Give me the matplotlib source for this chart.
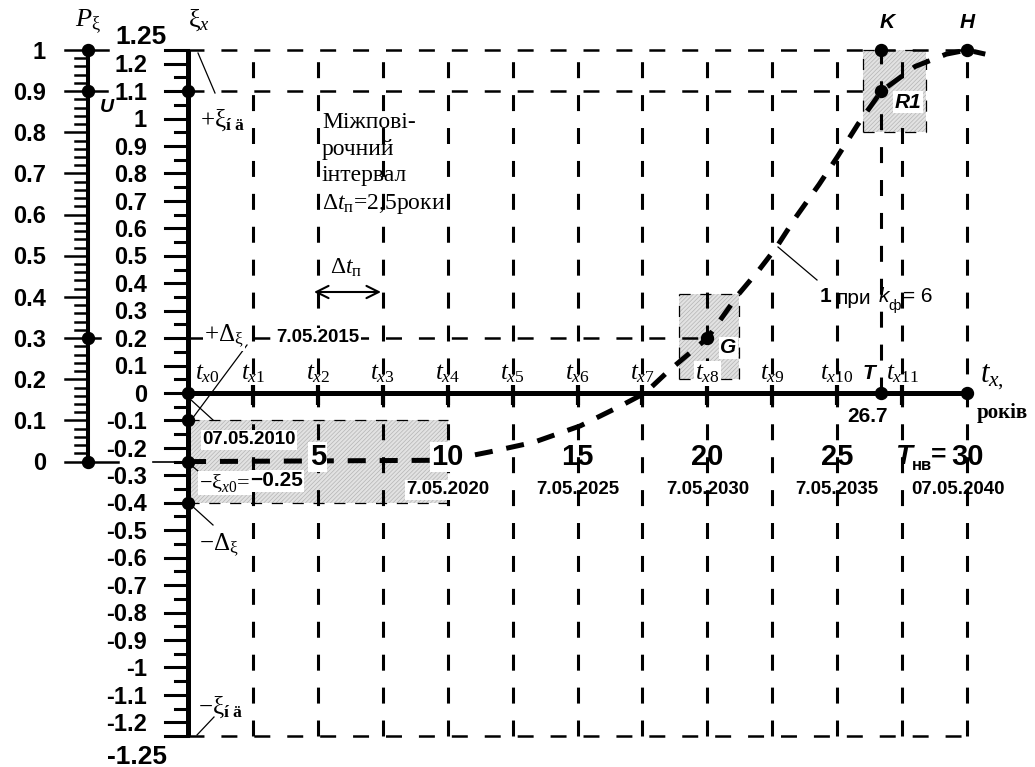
import numpy as np
import matplotlib.pyplot as plt
from matplotlib.patches import Rectangle

plt.rcParams['lines.scale_dashes'] = False
plt.rcParams['mathtext.fontset'] = 'custom'
plt.rcParams['mathtext.rm'] = 'Liberation Serif'
plt.rcParams['mathtext.it'] = 'Liberation Serif:italic'
plt.rcParams['mathtext.bf'] = 'Liberation Serif:bold'
plt.rcParams['hatch.linewidth'] = 0.5

SANS = 'Liberation Sans'
SERIF = 'Liberation Serif'

# вузли повірок, роки
t_nodes = [0, 2.5, 5, 7.5, 10, 12.5, 15, 17.5, 20, 22.5, 25, 27.5, 30]
year_ticks = [5, 10, 15, 20, 25, 30]
year_labels = ['5', '10', '15', '20', '25', '30']
date_t = [0, 5, 10, 15, 20, 25, 30]
date_labels = ['07.05.2010', '7.05.2015', '7.05.2020', '7.05.2025',
               '7.05.2030', '7.05.2035', '07.05.2040']

# крива дрейфу 1 при k_ф = 6
curve_t = [0, 10, 11.6, 13.3, 15.1, 16.6, 17.6, 18.5, 20, 21.2, 22.0,
           22.65, 23.4, 24.3, 25.0, 25.8, 26.7, 28.0, 29.2, 30.0, 30.7]
curve_xi = [-0.25, -0.245, -0.215, -0.18, -0.12, -0.05, 0.0, 0.08, 0.2,
            0.36, 0.45, 0.53, 0.64, 0.76, 0.86, 0.98, 1.1, 1.19, 1.235,
            1.25, 1.235]

# характерні точки
pt_names = ['K', 'H', 'R1', 'G', 'T']
pt_t = [26.7, 30.0, 26.7, 20.0, 26.7]
pt_xi = [1.25, 1.25, 1.1, 0.2, 0.0]

xi_marks = [1.1, 0.0, -0.1, -0.25, -0.4]
p_marks = [1.0, 0.9, 0.3, 0.0]
xi_nd = 1.1
xi_max = 1.25
xi_x0 = -0.25
delta_up = 0.2
T_value = 26.7
T_nv = 30

# зони допуску (t0, t1, xi0, xi1)
box_t0 = [0, 18.9, 26.0]
box_t1 = [10, 21.2, 28.4]
box_xi0 = [-0.4, 0.05, 0.95]
box_xi1 = [-0.1, 0.36, 1.25]

p_ticks = [0, 0.1, 0.2, 0.3, 0.4, 0.5, 0.6, 0.7, 0.8, 0.9, 1]

X0, SX = 188, 25.97
Y0, SY = 393, 274.4


def px(x, y):
    return (x - X0) / SX, (Y0 - y) / SY


def pxx(x):
    return px(x, 0)[0]


def pxy(y):
    return px(0, y)[1]


def p_to_xi(p):
    return xi_x0 + (xi_max - xi_x0) * p


def seg(ax, x1, y1, x2, y2, lw=0.9):
    a, b = px(x1, y1), px(x2, y2)
    ax.plot([a[0], b[0]], [a[1], b[1]], color='k', lw=lw, zorder=4)


fig = plt.figure(figsize=(10.35, 7.67), dpi=100)
ax = fig.add_axes([0, 0, 1, 1])
ax.set_xlim(pxx(0), pxx(1035))
ax.set_ylim(pxy(767), pxy(0))
ax.axis('off')

white = dict(facecolor='white', edgecolor='none', pad=1)
grid_dash = (11.5, 12.2)

# заштриховані зони
for a, b, c, d in zip(box_t0, box_t1, box_xi0, box_xi1):
    ax.add_patch(Rectangle((a, c), b - a, d - c, facecolor='#e2e2e2',
                           edgecolor='#b4b4b4', hatch='////////', lw=0, zorder=0.5))
    for yy in (c, d):
        ax.plot([a, b], [yy, yy], color='k', lw=0.9, dashes=(8, 7), zorder=1)
    for xx in (a, b):
        if xx not in t_nodes:
            ax.plot([xx, xx], [c, d], color='k', lw=0.9, dashes=(8, 7), zorder=1)

# вертикальні пунктири
for t in t_nodes[1:]:
    ax.plot([t, t], [-xi_max, xi_max], color='k', lw=2.2, dashes=grid_dash,
            dash_capstyle='butt', zorder=1)
ax.plot([T_value, T_value], [0, xi_max], color='k', lw=2.2, dashes=grid_dash, zorder=1)

# горизонтальні пунктири
ax.plot([0, T_nv], [xi_max, xi_max], color='k', lw=1.8, dashes=grid_dash, zorder=1)
ax.plot([0, T_value], [xi_nd, xi_nd], color='k', lw=1.8, dashes=grid_dash, zorder=1)
ax.plot([0, 20], [delta_up, delta_up], color='k', lw=1.8, dashes=grid_dash, zorder=1)
ax.plot([0, T_nv], [-xi_max, -xi_max], color='k', lw=1.8, dashes=grid_dash, zorder=1)

# осі
ax.plot([0, 0], [-xi_max, xi_max], color='k', lw=3.6, solid_capstyle='butt', zorder=4)
ax.plot([0, T_nv], [0, 0], color='k', lw=3.6, solid_capstyle='butt', zorder=4)
pa = pxx(88)
ax.plot([pa, pa], [p_to_xi(0), p_to_xi(1)], color='k', lw=2.9,
        solid_capstyle='butt', zorder=4)

for t in t_nodes[1:-1]:
    ax.plot([t, t], [-0.045, 0.03], color='k', lw=3.0, solid_capstyle='butt', zorder=4)

# шкала xi
xi_major = [round(0.1 * k, 2) for k in range(-12, 13)] + [-xi_max, xi_max]
xi_minor = [round(0.05 + 0.1 * k, 2) for k in range(-12, 12)]
for v in xi_major:
    ax.plot([pxx(165), 0], [v, v], color='k', lw=2.2, zorder=4)
for v in xi_minor:
    ax.plot([pxx(175), 0], [v, v], color='k', lw=2.2, zorder=4)
for v in xi_major[:-2]:
    ax.text(pxx(147), v - 0.008, f'{v:g}', ha='right', va='center',
            fontsize=17, weight='bold', family=SANS)
ax.text(pxx(167), pxy(37), f'{xi_max:g}', ha='right', va='center',
        fontsize=19, weight='bold', family=SANS)
ax.text(pxx(167), pxy(757), f'{-xi_max:g}', ha='right', va='center',
        fontsize=19, weight='bold', family=SANS)

# шкала P
for p in np.round(np.arange(0, 1.001, 0.02), 2):
    x1 = pxx(65) if round(p * 10, 6) % 1 == 0 else pxx(75)
    ax.plot([x1, pa], [p_to_xi(p)] * 2, color='k', lw=1.8, zorder=4)
for p in p_ticks:
    ax.text(pxx(46), p_to_xi(p) - 0.008, f'{p:g}', ha='right', va='center',
            fontsize=17, weight='bold', family=SANS)
for p, x2 in zip(p_marks, [108, 107, 100, 118]):
    ax.plot([pa, pxx(x2)], [p_to_xi(p)] * 2, color='k', lw=1.8, zorder=4)
ax.plot([pxx(153), 0], [xi_x0, xi_x0], color='k', lw=1.2, zorder=4)

# крива
ax.plot(curve_t, curve_xi, color='k', lw=3.6, dashes=(13, 10),
        dash_capstyle='butt', zorder=3)

# точки
ms = 8.6
ax.plot([0] * len(xi_marks), xi_marks, 'o', color='k', ms=ms, zorder=5)
ax.plot([pa] * len(p_marks), [p_to_xi(p) for p in p_marks], 'o', color='k', ms=ms, zorder=5)
ax.plot(pt_t, pt_xi, 'o', color='k', ms=ms, zorder=5)
ax.plot([T_nv], [0], 'o', color='k', ms=ms, zorder=5)

pt_offsets = {'K': (4, 20), 'H': (0, 20), 'R1': (19, -8), 'G': (15, -7), 'T': (-9, 14)}
for name, t, v in zip(pt_names, pt_t, pt_xi):
    ax.annotate(name, (t, v), xytext=pt_offsets[name], textcoords='offset points',
                ha='center', va='center', fontsize=15, weight='bold',
                style='italic', family=SANS, zorder=6,
                bbox=white if name in ('R1', 'G') else None)

# підписи вузлів t_x
for i, t in enumerate(t_nodes[:-1]):
    x = t if i else pxx(207)
    ax.text(x, pxy(379), f'$t_{{x{i}}}$', ha='center', va='baseline',
            fontsize=18, family=SERIF, zorder=6,
            bbox=white if i == 8 else None)
ax.text(pxx(980), pxy(382), r'$t_{x,}$', ha='left', va='baseline', fontsize=22, family=SERIF)
ax.text(pxx(977), pxy(413), 'років', ha='left', va='center', fontsize=15,
        weight='bold', family=SERIF)

# роки та дати
for t, lab in zip(year_ticks, year_labels):
    ax.text(t, pxy(457), lab, ha='center', va='center', fontsize=21,
            weight='bold', family=SANS, zorder=6, bbox=white if t <= 10 else None)
ax.text(pxx(895), pxy(457), 'T', ha='left', va='center', fontsize=20,
        weight='bold', style='italic', family=SANS)
ax.text(pxx(912), pxy(466), 'нв', ha='left', va='center', fontsize=12,
        weight='bold', family=SANS)
ax.text(pxx(931), pxy(455), '=', ha='left', va='center', fontsize=19,
        weight='bold', family=SANS)

for t, lab in zip(date_t, date_labels):
    if t == 0:
        ax.text(pxx(202), pxy(440), lab, ha='left', va='center', fontsize=13.5,
                weight='bold', family=SANS, zorder=6, bbox=white)
    elif t == 5:
        ax.text(t, pxy(338), lab, ha='center', va='center', fontsize=13.5,
                weight='bold', family=SANS, zorder=6, bbox=white)
    else:
        x = t - 9 / SX if t == 30 else t
        ax.text(x, pxy(490), lab, ha='center', va='center', fontsize=13.5,
                weight='bold', family=SANS, zorder=6,
                bbox=white if t == 10 else None)

ax.text(px(868, 0)[0], pxy(417), f'{T_value:g}', ha='center', va='center',
        fontsize=15, weight='bold', family=SANS)

# позначки на осі xi
ax.text(pxx(200), pxy(120), r'$+\mathrm{ξ}_{\mathbf{í\ ä}}$', ha='left', va='center',
        fontsize=18, family=SERIF)
ax.text(pxx(198), pxy(707), r'$-\mathrm{ξ}_{\mathbf{í\ ä}}$', ha='left', va='center',
        fontsize=18, family=SERIF)
ax.text(pxx(204), pxy(336), r'$+\Delta_{\mathrm{ξ}}$', ha='left', va='center',
        fontsize=18, family=SERIF, zorder=6, bbox=white)
ax.text(pxx(199), pxy(545), r'$-\Delta_{\mathrm{ξ}}$', ha='left', va='center',
        fontsize=18, family=SERIF)
ax.text(pxx(199), pxy(483), r'$-\mathrm{ξ}_{x0}$=', ha='left', va='center',
        fontsize=16, family=SERIF, zorder=6, bbox=white)
ax.text(pxx(250), pxy(481), f'\u2212{abs(xi_x0):g}', ha='left', va='center',
        fontsize=15, weight='bold', family=SANS, zorder=6, bbox=white)
ax.text(pxx(107), pxy(107), 'U', ha='center', va='center', fontsize=14,
        weight='bold', style='italic', family=SANS)
ax.text(pa, pxy(22), r'$P_{\mathrm{ξ}}$', ha='center', va='center', fontsize=19, family=SERIF)
ax.text(0, pxy(20), r'$\mathrm{ξ}_x$', ha='left', va='center', fontsize=19, family=SERIF)

# виноски
seg(ax, 198, 53, 215, 93)
seg(ax, 197, 735, 214, 717)
seg(ax, 247, 345, 192, 419)
seg(ax, 190, 399, 213, 420)
seg(ax, 191, 465, 205, 477)
seg(ax, 191, 505, 213, 525)
seg(ax, 778, 247, 817, 280)

# міжповірочний інтервал
for y, line in zip([122, 149, 176], ['Міжпові-', 'рочний', 'інтервал']):
    ax.text(pxx(322), pxy(y), line, ha='left', va='center', fontsize=17, family=SERIF)
ax.text(pxx(322), pxy(204), r'$\Delta t_{\mathrm{п}}$=2,5роки', ha='left', va='center',
        fontsize=17, family=SERIF)
ax.text(pxx(346), pxy(268), r'$\Delta t_{\mathrm{п}}$', ha='center', va='center',
        fontsize=17, family=SERIF)
ax.annotate('', xy=px(381, 292), xytext=px(314, 292),
            arrowprops=dict(arrowstyle='<->', lw=1.5, mutation_scale=22, color='k',
                            shrinkA=0, shrinkB=0))

# підпис кривої
ax.text(pxx(820), pxy(297), '1', ha='left', va='center', fontsize=15,
        weight='bold', family=SANS)
ax.text(pxx(837), pxy(298), 'при', ha='left', va='center', fontsize=15, family=SANS)
ax.text(pxx(879), pxy(297), 'k', ha='left', va='center', fontsize=15,
        style='italic', family=SANS)
ax.text(pxx(888), pxy(306), 'ф', ha='left', va='center', fontsize=11, family=SANS)
ax.text(pxx(903), pxy(297), '= 6', ha='left', va='center', fontsize=15, family=SANS)

fig.savefig('out.png', dpi=100)
